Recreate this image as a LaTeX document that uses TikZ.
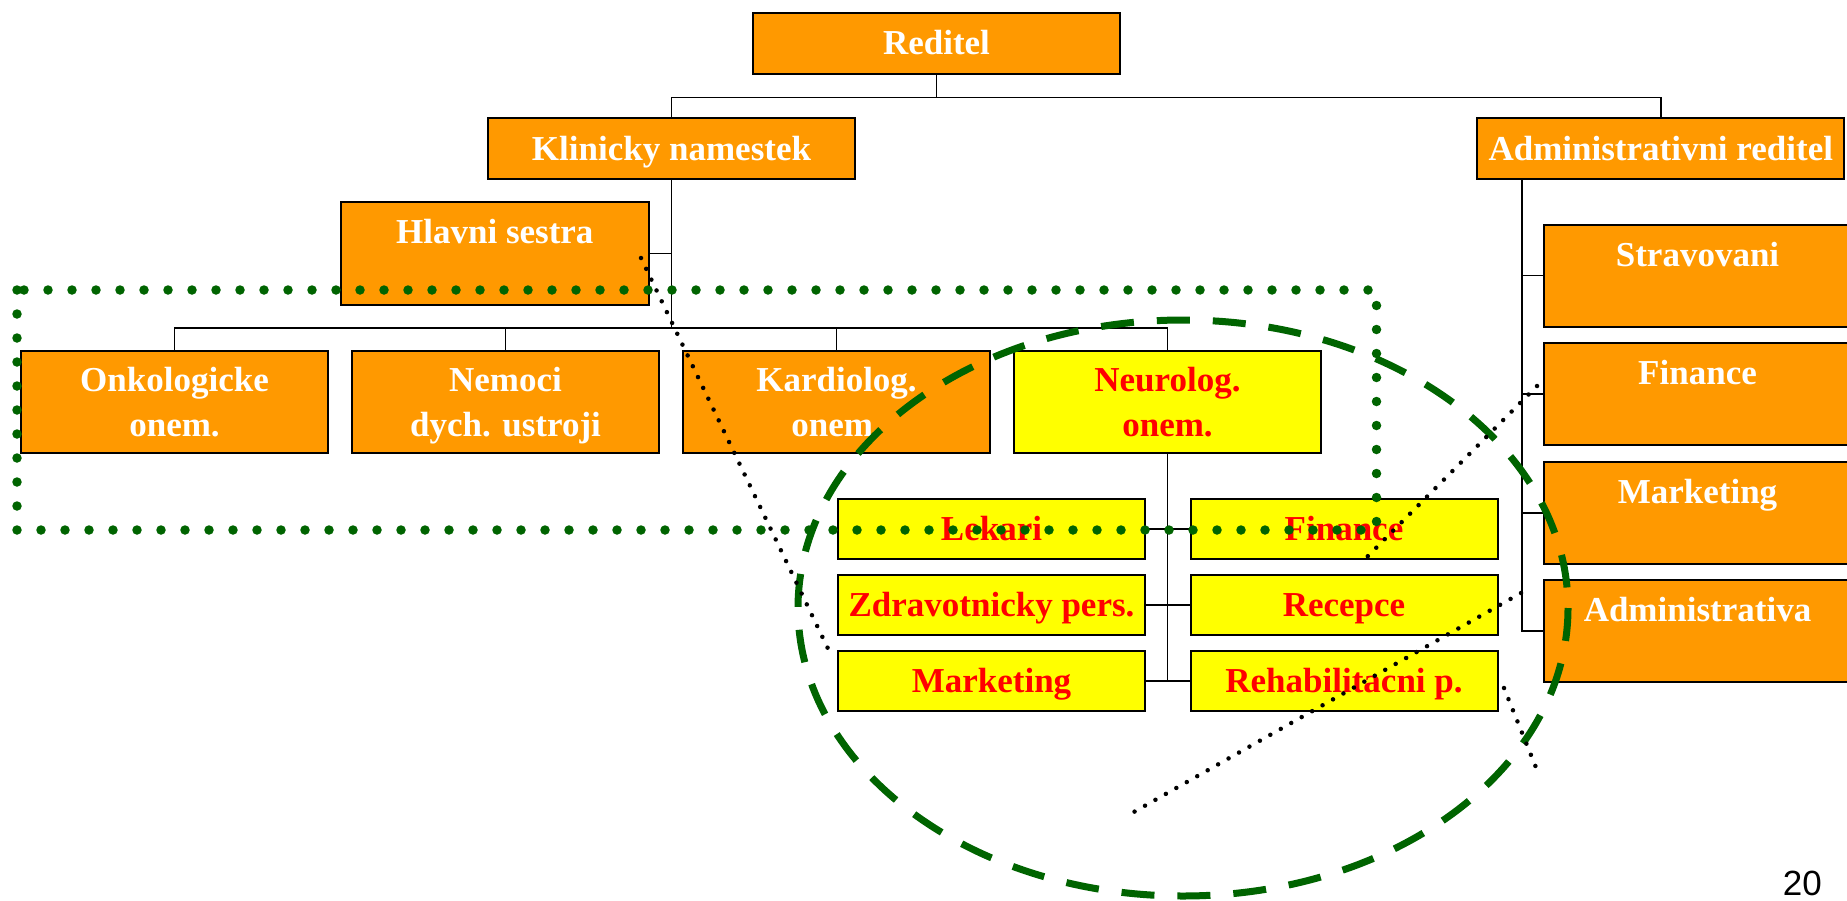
\documentclass[tikz,border=0pt]{standalone}
\usepackage{fontspec}
\setmainfont{Liberation Serif}
\newfontfamily\numfont{Liberation Sans}
\definecolor{boxorange}{RGB}{255,153,0}
\definecolor{boxyellow}{RGB}{255,255,0}
\definecolor{ovgreen}{RGB}{0,100,0}
\tikzset{
  ob/.style={draw=black, line width=2pt, fill=boxorange, text=white,
    font=\fontsize{35}{45}\selectfont\bfseries, inner sep=0pt, align=center},
  yb/.style={ob, fill=boxyellow, text=red},
  topbox/.style={minimum width=367pt, minimum height=61pt, text height=42pt, text depth=19pt},
  deptbox/.style={minimum width=307pt, minimum height=102pt, text height=86pt, text depth=16pt},
  subbox/.style={minimum width=307pt, minimum height=60pt, text height=41.6pt, text depth=18.4pt},
  sidebox/.style={minimum width=307pt, minimum height=102pt, text height=41.6pt, text depth=60.4pt},
  conn/.style={line width=1.5pt, draw=black},
  greendots/.style={draw=ovgreen, line width=9.5pt, dash pattern=on 0pt off 24pt, line cap=round},
  greendash/.style={draw=ovgreen, line width=7pt, dash pattern=on 33pt off 23pt},
  blackdots/.style={draw=black, line width=4.5pt, dash pattern=on 0pt off 12pt, line cap=round}
}
\begin{document}
\begin{tikzpicture}[x=1pt, y=-1pt]
\clip (0,0) rectangle (1847,900);
\fill[white] (0,0) rectangle (1847,900);

% top level
\node[ob, topbox] (red) at (936.5,43) {Reditel};
\node[ob, topbox] (kn) at (671.5,148.5) {Klinicky namestek};
\node[ob, topbox] (ar) at (1660.75,148.5) {Administrativni reditel};
\node[ob, minimum width=307.6pt, minimum height=103pt, text height=41pt, text depth=62pt] (hs) at (494.8,253.5) {Hlavni sestra};

% departments
\node[ob, deptbox] (onk) at (174.5,401.8) {Onkologicke\\onem.};
\node[ob, deptbox] (nem) at (505.5,401.8) {Nemoci\\dych. ustroji};
\node[ob, deptbox] (kar) at (836.5,401.8) {Kardiolog.\\onem.};
\node[yb, deptbox] (neu) at (1167.5,401.8) {Neurolog.\\onem.};

% neurology sub-units
\node[yb, subbox] (l1) at (991.5,529) {Lekari};
\node[yb, subbox] (l2) at (991.5,605) {Zdravotnicky pers.};
\node[yb, subbox] (l3) at (991.5,681) {Marketing};
\node[yb, subbox] (r1) at (1344,529) {Finance};
\node[yb, subbox] (r2) at (1344,605) {Recepce};
\node[yb, subbox] (r3) at (1344,681) {Rehabilitacni p.};

% administration column
\node[ob, sidebox] (a1) at (1697.5,275.5) {Stravovani};
\node[ob, sidebox] (a2) at (1697.5,394) {Finance};
\node[ob, sidebox] (a3) at (1697.5,513) {Marketing};
\node[ob, sidebox] (a4) at (1697.5,631) {Administrativa};

% connectors
\draw[conn] (red.south) -- ++(0,23) -| (kn.north);
\draw[conn] (red.south) ++(0,23) -| (ar.north);
\coordinate (busy) at (671.5,328);
\draw[conn] (kn.south) -- (kn.south |- busy);
\draw[conn] (hs.east) -- (hs.east -| kn.south);
\draw[conn] (onk.north) |- (neu.north |- busy) -- (neu.north);
\draw[conn] (nem.north) -- (nem.north |- busy);
\draw[conn] (kar.north) -- (kar.north |- busy);
\draw[conn] (neu.south) -- (neu.south |- l3.east);
\draw[conn] (l1.east) -- (r1.west);
\draw[conn] (l2.east) -- (r2.west);
\draw[conn] (l3.east) -- (r3.west);
\coordinate (av) at (1522,179);
\draw[conn] (av) |- (a4.west);
\draw[conn] (a1.west) -- (a1.west -| av);
\draw[conn] (a2.west) -- (a2.west -| av);
\draw[conn] (a3.west) -- (a3.west -| av);

% page number
\node[anchor=base east, font=\numfont\fontsize{35}{42}\selectfont, inner sep=0pt] (pg) at (1822,895) {20};

% overlays
\draw[greendots] (17,290) rectangle (1376.5,530);
\draw[greendash] (1183,608) ellipse [x radius=385, y radius=288];

\coordinate (d1a) at (641,258);  \coordinate (d1b) at (832,657);
\coordinate (d2a) at (1537,386); \coordinate (d2b) at (1364,560);
\coordinate (d3a) at (1521,593); \coordinate (d3b) at (1125,817);
\coordinate (d4a) at (1504,688); \coordinate (d4b) at (1537,770);
\draw[blackdots] (d1a) -- (d1b);
\draw[blackdots] (d2a) -- (d2b);
\draw[blackdots] (d3a) -- (d3b);
\draw[blackdots] (d4a) -- (d4b);
\end{tikzpicture}
\end{document}
